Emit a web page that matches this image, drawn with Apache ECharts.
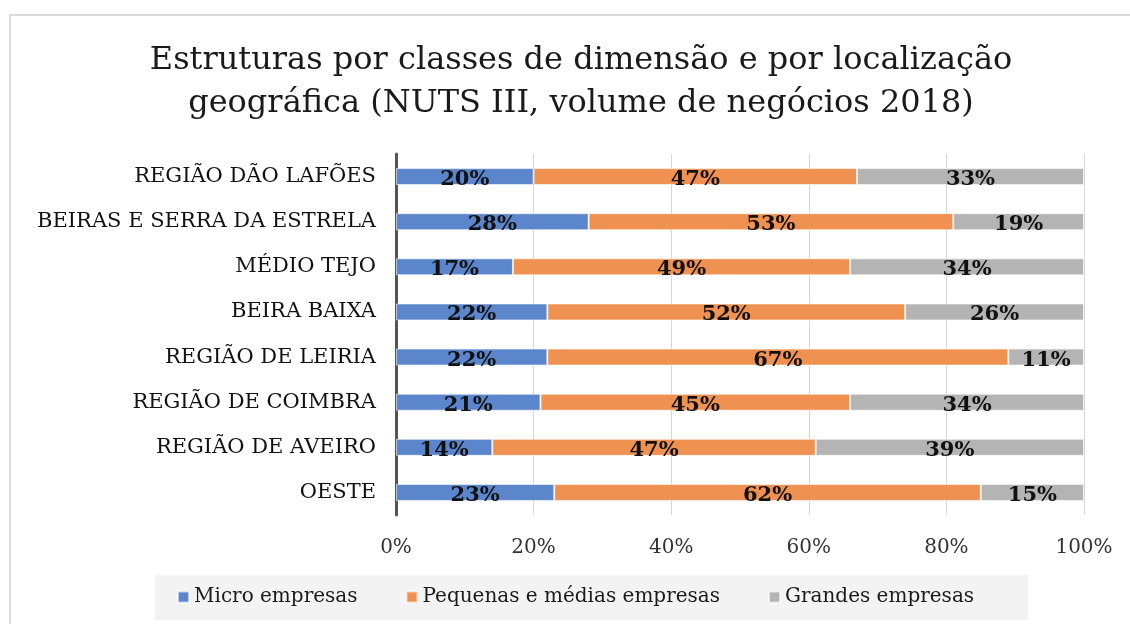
<!DOCTYPE html>
<html>
<head>
<meta charset="utf-8">
<script src="https://cdn.jsdelivr.net/npm/echarts@6/dist/echarts.min.js"></script>
<style>html,body{margin:0;padding:0;background:#fff;}#c{width:1130px;height:624px;}</style>
</head>
<body>
<div id="c"></div>
<script>
const categories = ["REGIÃO DÃO LAFÕES","BEIRAS E SERRA DA ESTRELA","MÉDIO TEJO","BEIRA BAIXA","REGIÃO DE LEIRIA","REGIÃO DE COIMBRA","REGIÃO DE AVEIRO","OESTE"];
const micro = [20,28,17,22,22,21,14,23];
const pme = [47,53,49,52,67,45,47,62];
const grandes = [33,19,34,26,11,34,39,15];
const seriesNames = ["Micro empresas","Pequenas e médias empresas","Grandes empresas"];
const xTicks = [0,20,40,60,80,100];

const FONT = "DejaVu Serif";
const colors = ["#5b86cc","#ef9150","#b4b4b4"];
const chart = echarts.init(document.getElementById('c'));
const mk = (name, data, color) => ({
  name, type: 'bar', stack: 'total', data, barWidth: 17,
  itemStyle: { color, borderColor: 'rgba(255,255,255,0.6)', borderWidth: 1 },
  label: { show: true, position: 'inside', offset: [0, 3], formatter: p => p.value + '%',
    fontFamily: FONT, fontWeight: 'bold', fontSize: 21, color: '#111' }
});
chart.setOption({
  animation: false,
  graphic: [
    { type: 'rect', shape: { x: 10, y: 15, width: 1200, height: 700 }, style: { fill: 'none', stroke: '#d0d0d0', lineWidth: 1.5 }, z: -1 },
    { type: 'rect', shape: { x: 155, y: 575, width: 873, height: 45 }, style: { fill: '#f3f3f3' }, z: -1 }
  ],
  title: {
    text: 'Estruturas por classes de dimensão e por localização\ngeográfica (NUTS III, volume de negócios 2018)',
    left: 576, top: 34, textAlign: 'center',
    textStyle: { fontFamily: FONT, fontWeight: 'normal', fontSize: 32, lineHeight: 43, color: '#1a1a1a' }
  },
  grid: { left: 396, right: 46, top: 154, bottom: 109 },
  xAxis: {
    type: 'value', min: 0, max: 100, interval: 20,
    axisLine: { show: false }, axisTick: { show: false },
    splitLine: { lineStyle: { color: '#d6d6d6', width: 1 } },
    axisLabel: { formatter: v => xTicks.includes(v) ? v + '%' : '', fontFamily: FONT, fontSize: 20, color: '#333', margin: 23 }
  },
  yAxis: {
    type: 'category', data: categories, inverse: true,
    axisLine: { lineStyle: { color: '#555', width: 3 } }, axisTick: { show: false },
    axisLabel: { fontFamily: FONT, fontSize: 21, color: '#111', margin: 20 }
  },
  legend: {
    data: seriesNames, left: 155, top: 575,
    padding: [12, 22, 12, 22], itemGap: 48,
    itemWidth: 11, itemHeight: 11, icon: 'rect',
    textStyle: { fontFamily: FONT, fontSize: 20, color: '#1a1a1a' }
  },
  series: [mk(seriesNames[0], micro, colors[0]), mk(seriesNames[1], pme, colors[1]), mk(seriesNames[2], grandes, colors[2])]
});
</script>
</body>
</html>
